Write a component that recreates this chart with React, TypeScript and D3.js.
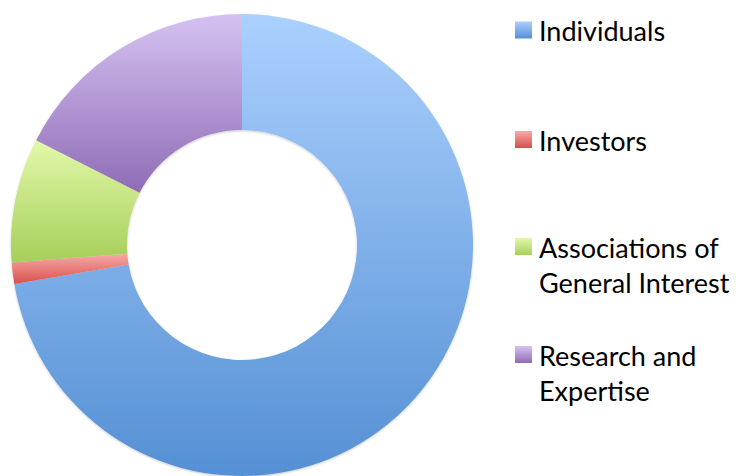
import React from "react";
import * as d3 from "d3";

const categories = ["Individuals", "Investors", "Associations of General Interest", "Research and Expertise"];
const values = [72.3, 1.5, 8.7, 17.5];
const legendLines = [["Individuals"], ["Investors"], ["Associations of", "General Interest"], ["Research and", "Expertise"]];
const topColors = ["#abd0fe", "#f8aaa8", "#e2f8aa", "#d5c2f1"];
const bottomColors = ["#5590d4", "#d6504c", "#a6cf5a", "#8f6cb6"];

export default function App() {
  const W = 736, H = 476;
  const cx = 242, cy = 245, R = 231, r = 115;
  const data = categories.map((c, i) => ({ c, v: values[i], i }));
  const pie = d3.pie<any>().value((d) => d.v).sort(null).startAngle(0).endAngle(2 * Math.PI);
  const arcs = pie(data);
  const arc = d3.arc<any>().innerRadius(r).outerRadius(R);
  const legendY = [30, 139.5, 246.5, 354.5];
  return (
    <svg width={W} height={H} style={{ position: "absolute", left: 0, top: 0, background: "#fff" }}>
      <defs>
        {categories.map((c, i) => (
          <linearGradient key={i} id={`g${i}`} x1="0" y1="0" x2="0" y2="1">
            <stop offset="0%" stopColor={topColors[i]} />
            <stop offset="100%" stopColor={bottomColors[i]} />
          </linearGradient>
        ))}
        <filter id="sh" x="-10%" y="-10%" width="120%" height="120%">
          <feDropShadow dx="0" dy="1" stdDeviation="1.2" floodColor="#000" floodOpacity="0.22" />
        </filter>
      </defs>
      <g transform={`translate(${cx},${cy})`} filter="url(#sh)">
        {arcs.map((a, i) => (
          <path key={i} d={arc(a) as string} fill={`url(#g${i})`} />
        ))}
      </g>
      <g fontFamily="Lato, 'Open Sans', sans-serif" fontSize={27} fill="#000">
        {legendLines.map((lines, i) => (
          <g key={i} transform={`translate(515,${legendY[i]})`}>
            <rect x={0} y={-8.5} width={17} height={17} fill={`url(#g${i})`} />
            {lines.map((t, j) => (
              <text key={j} x={24} y={1.8 + j * 35} dy="0.35em">{t}</text>
            ))}
          </g>
        ))}
      </g>
    </svg>
  );
}
